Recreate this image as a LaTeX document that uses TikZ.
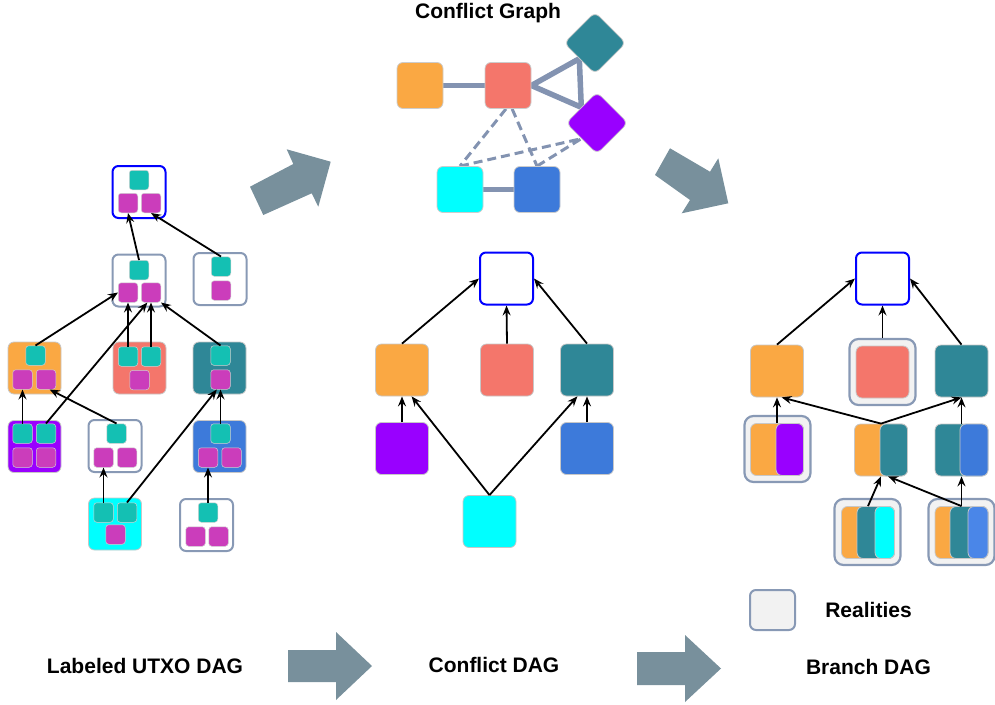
\documentclass[tikz,border=0pt]{standalone}
\usepackage{fontspec}
\setmainfont{Liberation Sans}
\usetikzlibrary{arrows.meta,shapes.geometric}
\definecolor{orangec}{HTML}{FAA843}
\definecolor{redc}{HTML}{F4766B}
\definecolor{dtealc}{HTML}{2F8797}
\definecolor{purplec}{HTML}{9900FF}
\definecolor{bluec}{HTML}{3D7ADA}
\definecolor{bluetwo}{HTML}{4A86E8}
\definecolor{cyanc}{HTML}{00FFFF}
\definecolor{tealc}{HTML}{14C0B3}
\definecolor{magc}{HTML}{CB3DBB}
\definecolor{grayb}{HTML}{8899B5}
\definecolor{arrowc}{HTML}{78909C}
\definecolor{edgec}{HTML}{8393B1}
\definecolor{framefill}{HTML}{F2F2F2}
\pgfdeclarelayer{bg}
\pgfsetlayers{bg,main}
\tikzset{
 dagbox/.style={rectangle, rounded corners=6pt, minimum width=53pt, minimum height=52pt, inner sep=0pt, draw=black!22, line width=0.8pt},
 utxobox/.style={dagbox, fill=white, draw=grayb, line width=2pt},
 rootbox/.style={dagbox, fill=white, draw=blue, line width=2pt},
 cellbox/.style={rectangle, rounded corners=3pt, minimum size=19.5pt, inner sep=0pt, draw=black!18, line width=0.5pt},
 tcell/.style={cellbox, fill=tealc},
 mcell/.style={cellbox, fill=magc},
 part/.style={draw=black!22, line width=0.8pt, rounded corners=6pt},
 realframe/.style={rectangle, rounded corners=9pt, minimum width=66pt, minimum height=66pt, inner sep=0pt, fill=framefill, draw=grayb, line width=2.2pt},
 dagarrow/.style={-{Stealth[length=10pt,width=8pt,inset=3.5pt]}, line width=1.8pt, black},
 cgnode/.style={rectangle, rounded corners=6pt, minimum size=46pt, inner sep=0pt, draw=black!20, line width=0.8pt},
 cgdiamond/.style={diamond, rounded corners=6pt, minimum width=62pt, minimum height=62pt, inner sep=0pt, draw=black!20, line width=0.8pt},
 cgedge/.style={line width=5.5pt, draw=edgec},
 cgdash/.style={line width=3pt, draw=edgec, dash pattern=on 9pt off 5pt},
 bigarrow/.style={fill=arrowc},
 lbl/.style={font=\fontsize{21}{25}\selectfont\bfseries, anchor=base, inner sep=0pt},
}
\begin{document}
\begin{tikzpicture}[x=1pt,y=-1pt]
\useasboundingbox (0,0) rectangle (995,704);

% ---------------- Left: labeled UTXO DAG ----------------
\node[rootbox] (LT) at (139,192) {};
\node[tcell] (LTt) at (139,180) {};
\node[mcell] (LTm1) at (128,203) {};
\node[mcell] (LTm2) at (151,203) {};

\node[utxobox] (L2) at (139,280.5) {};
\node[tcell] (L2t) at (139,270) {};
\node[mcell] (L2m1) at (128,292.5) {};
\node[mcell] (L2m2) at (151,292.5) {};

\node[utxobox] (L3) at (220,279) {};
\node[tcell] (L3t) at (221,266.5) {};
\node[mcell] (L3m) at (221,290.5) {};

\node[dagbox, fill=orangec] (LO) at (34.5,368) {};
\node[tcell] (LOt) at (35.5,355.5) {};
\node[mcell] (LOm1) at (22.5,379.5) {};
\node[mcell] (LOm2) at (46,379.5) {};

\node[dagbox, fill=redc] (LR) at (139.5,368) {};
\node[tcell] (LRt1) at (128,356.5) {};
\node[tcell] (LRt2) at (151,356.5) {};
\node[mcell] (LRm) at (139.5,380) {};

\node[dagbox, fill=dtealc] (LD) at (219.5,368) {};
\node[tcell] (LDt) at (220.5,355.5) {};
\node[mcell] (LDm) at (220.5,379.5) {};

\node[dagbox, fill=purplec] (LP) at (34.5,446.5) {};
\node[tcell] (LPt1) at (22.5,433.5) {};
\node[tcell] (LPt2) at (46,433.5) {};
\node[mcell] (LPm1) at (22.5,457.5) {};
\node[mcell] (LPm2) at (46,457.5) {};

\node[utxobox] (LW) at (115,446) {};
\node[tcell] (LWt) at (116.5,433.5) {};
\node[mcell] (LWm1) at (103.5,457.5) {};
\node[mcell] (LWm2) at (127,457.5) {};

\node[dagbox, fill=bluec] (LB) at (219.5,446.5) {};
\node[tcell] (LBt) at (220.5,433.5) {};
\node[mcell] (LBm1) at (208,457.5) {};
\node[mcell] (LBm2) at (231.5,457.5) {};

\node[dagbox, fill=cyanc] (LC) at (115,524) {};
\node[tcell] (LCt1) at (103.5,512.5) {};
\node[tcell] (LCt2) at (127,512.5) {};
\node[mcell] (LCm) at (115.5,534.5) {};

\node[utxobox] (LW2) at (206.5,525) {};
\node[tcell] (LW2t) at (208,512.5) {};
\node[mcell] (LW2m1) at (195.5,536.5) {};
\node[mcell] (LW2m2) at (218.5,536.5) {};

\draw[dagarrow] (L2t.north) -- (LTm1.south);
\draw[dagarrow] (L3t.north) -- (LTm2.south);
\draw[dagarrow] (LOt.north) -- (L2m1.west);
\draw[dagarrow] (LRt1.north) -- (L2m1.south);
\draw[dagarrow] (LRt2.north) -- (L2m2.south);
\draw[dagarrow] (LPt2.north) -- (L2m2.-110);
\draw[dagarrow] (LDt.north) -- (L2m2.south east);
\draw[dagarrow] (LPt1.north) -- (LOm1.south);
\draw[dagarrow] (LWt.north) -- (LOm2.-70);
\draw[dagarrow] (LCt1.north) -- (LWm1.south);
\draw[dagarrow] (LCt2.north) -- (LDm.-110);
\draw[dagarrow] (LBt.north) -- (LDm.south);
\draw[dagarrow] (LW2t.north) -- (LBm1.south);

% ---------------- Conflict graph ----------------
\node[lbl] (tCG) at (488,18.5) {Conflict Graph};
\node[cgnode, fill=orangec] (CO) at (420,85.5) {};
\node[cgnode, fill=redc] (CR) at (508,85.5) {};
\node[cgdiamond, fill=dtealc] (CD) at (595,43) {};
\node[cgdiamond, fill=purplec] (CP) at (597,123) {};
\node[cgnode, fill=cyanc] (CC) at (460,189.5) {};
\node[cgnode, fill=bluec] (CB) at (537,189.5) {};
\begin{pgfonlayer}{bg}
\draw[cgedge] (CO) -- (CR);
\draw[cgedge] (CR.east) -- (CD.-135) -- (CP.135) -- cycle;
\draw[cgedge] (CC) -- (CB);
\draw[cgdash] (CR.-95) -- (CC.north);
\draw[cgdash] (CR.-80) -- (CB.north);
\draw[cgdash] (CC.north) -- (CP.-135);
\draw[cgdash] (CB.north) -- (CP.-135);
\end{pgfonlayer}

% ---------------- Middle: conflict DAG ----------------
\node[rootbox] (MT) at (506.5,278.5) {};
\node[dagbox, fill=orangec] (MO) at (402,370) {};
\node[dagbox, fill=redc] (MR) at (507,370) {};
\node[dagbox, fill=dtealc] (MD) at (587,370) {};
\node[dagbox, fill=purplec] (MP) at (402,448.5) {};
\node[dagbox, fill=bluec] (MB) at (587,448.5) {};
\node[dagbox, fill=cyanc] (MC) at (489.5,521.5) {};
\draw[dagarrow] (MO.north) -- (MT.west);
\draw[dagarrow] (MR.north) -- (MT.south);
\draw[dagarrow] (MD.north) -- (MT.east);
\draw[dagarrow] (MP.north) -- (MO.south);
\draw[dagarrow] (MC.north) -- (MO.-70);
\draw[dagarrow] (MC.north) -- (MD.-110);
\draw[dagarrow] (MB.north) -- (MD.south);

% ---------------- Right: branch DAG ----------------
\node[rootbox] (RT) at (882.5,278.5) {};
\node[dagbox, fill=orangec] (RO) at (777,371) {};
\node[realframe] (RRf) at (882.5,372) {};
\node[dagbox, fill=redc] (RR) at (882.5,372) {};
\node[dagbox, fill=dtealc] (RD) at (961.5,371) {};

\node[realframe] (ROPf) at (777.5,449) {};
\node[dagbox, fill=orangec] (ROP) at (777,449.5) {};
\draw[part, fill=purplec] (776,423.5) rectangle (803.5,475.5);

\node[dagbox, fill=orangec] (ROT) at (881,450) {};
\draw[part, fill=dtealc] (880,424) rectangle (907.5,476);

\node[dagbox, fill=dtealc] (RTB) at (961.5,450) {};
\draw[part, fill=bluec] (960,424) rectangle (988,476);

\node[realframe] (ROTCf) at (867.5,532) {};
\node[dagbox, fill=orangec] (ROTC) at (868,532.5) {};
\draw[part, fill=dtealc] (857,506.5) rectangle (894.5,558.5);
\draw[part, fill=cyanc] (875,506.5) rectangle (894.5,558.5);

\node[realframe] (ROTBf) at (961.5,532) {};
\node[dagbox, fill=orangec] (ROTB) at (961.5,532.5) {};
\draw[part, fill=dtealc] (950,506.5) rectangle (988,558.5);
\draw[part, fill=bluetwo] (968,506.5) rectangle (988,558.5);

\draw[dagarrow] (RO.north) -- (RT.west);
\draw[dagarrow] (RRf.north) -- (RT.south);
\draw[dagarrow] (RD.north) -- (RT.east);
\draw[dagarrow] (ROP.north) -- (RO.south);
\draw[dagarrow] (ROT.north) -- (RO.-80);
\draw[dagarrow] (ROT.north) -- (RD.south);
\draw[dagarrow] (RTB.north) -- (RD.south);
\draw[dagarrow] (ROTC.north) -- (ROT.south);
\draw[dagarrow] (ROTB.north) -- (RTB.south);
\draw[dagarrow] (ROTB.north) -- (ROT.-75);

% ---------------- Legend ----------------
\node[rectangle, rounded corners=6pt, minimum width=45pt, minimum height=40pt, inner sep=0pt, fill=framefill, draw=grayb, line width=2pt] (leg) at (772.5,610) {};
\node[lbl] (tR) at (868.5,617) {Realities};

% ---------------- Big arrows ----------------
\fill[bigarrow] (250,186.7) -- (293.3,164) -- (286.7,149.3) -- (330.7,161.7) -- (318.3,206.7) -- (311.7,193.3) -- (263.3,215) -- cycle;
\fill[bigarrow] (670,148.3) -- (710,171.7) -- (718.3,158.3) -- (728.3,203.3) -- (681.7,213.3) -- (690,200) -- (655,175) -- cycle;
\fill[bigarrow] (288,650) -- (336,650) -- (336,632) -- (372,666) -- (336,700) -- (336,682) -- (288,682) -- cycle;
\fill[bigarrow] (637,652) -- (685,652) -- (685,635) -- (721,668.5) -- (685,702) -- (685,685) -- (637,685) -- cycle;

% ---------------- Labels ----------------
\node[lbl] (tL) at (145,673) {Labeled UTXO DAG};
\node[lbl] (tC) at (494,672) {Conflict DAG};
\node[lbl] (tB) at (868.5,674) {Branch DAG};
\end{tikzpicture}
\end{document}
